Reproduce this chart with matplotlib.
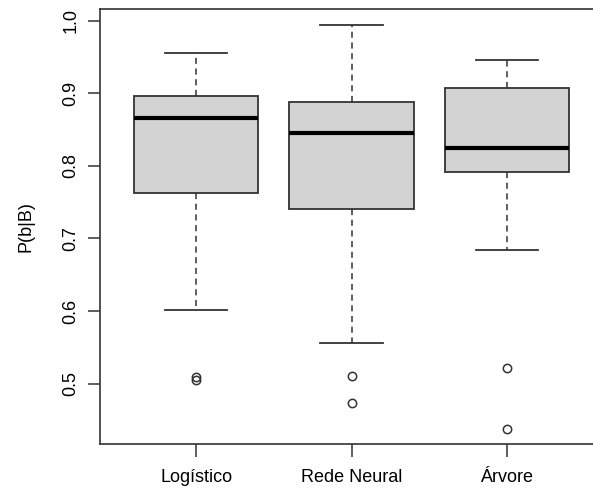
import matplotlib.pyplot as plt

plt.rcParams['font.family'] = ['Liberation Sans', 'DejaVu Sans']

modelos = ['Logístico', 'Rede Neural', 'Árvore']
whisker_low = [0.601, 0.556, 0.684]
q1 = [0.762, 0.740, 0.792]
mediana = [0.866, 0.845, 0.825]
q3 = [0.896, 0.888, 0.907]
whisker_high = [0.956, 0.994, 0.946]
outliers = [[0.509, 0.505], [0.511, 0.474], [0.521, 0.437]]

stats = []
for i, nome in enumerate(modelos):
    stats.append({
        'label': nome,
        'whislo': whisker_low[i],
        'q1': q1[i],
        'med': mediana[i],
        'q3': q3[i],
        'whishi': whisker_high[i],
        'fliers': outliers[i],
    })

fig = plt.figure(figsize=(5.93, 4.91), dpi=100)
# R-style plot region; the right side is cut off in the reference
ax = fig.add_axes([100 / 593, 1 - 444 / 491, 503 / 593, 435 / 491])

line = '#333333'
ax.bxp(stats, positions=[1, 2, 3], widths=0.8, patch_artist=True,
       boxprops=dict(facecolor='#d3d3d3', edgecolor=line, linewidth=1.3),
       medianprops=dict(color='black', linewidth=3),
       whiskerprops=dict(color=line, linewidth=1.1, linestyle=(0, (4, 3))),
       capprops=dict(color=line, linewidth=1.3),
       flierprops=dict(marker='o', markerfacecolor='none', markeredgecolor=line,
                       markersize=6, markeredgewidth=1.1),
       capwidths=0.4)

ax.set_xlim(0.38, 3.62)
ax.set_ylim(0.417, 1.016)
ax.set_yticks([0.5, 0.6, 0.7, 0.8, 0.9, 1.0])
ax.set_yticklabels(['0.5', '0.6', '0.7', '0.8', '0.9', '1.0'], rotation=90, va='center')
ax.set_xticks([1, 2, 3])
ax.set_xticklabels(modelos)
ax.tick_params(axis='both', direction='out', length=9, width=1.1, color=line,
               labelsize=13, pad=6)
ax.tick_params(axis='x', pad=9)
ax.set_ylabel('P(b|B)', fontsize=13, labelpad=20)
for s in ax.spines.values():
    s.set_color(line)
    s.set_linewidth(1.2)
ax.spines['right'].set_visible(False)

fig.savefig('out.png', dpi=100)
